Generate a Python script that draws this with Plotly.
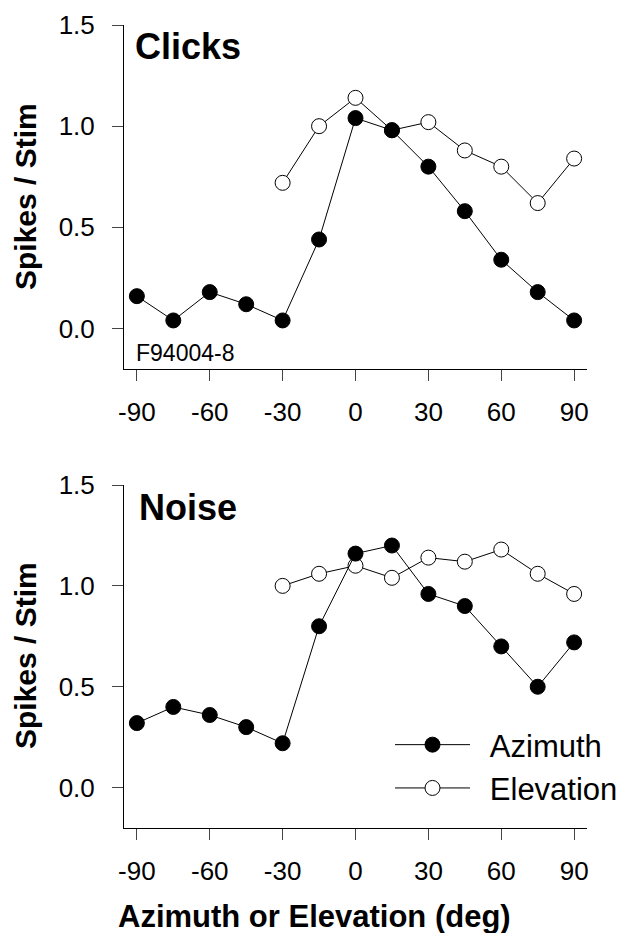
import plotly.graph_objects as go
from plotly.subplots import make_subplots

# Stimulus direction (deg), shared by azimuth and elevation sweeps
angles = [-90, -75, -60, -45, -30, -15, 0, 15, 30, 45, 60, 75, 90]
elev_angles = [-30, -15, 0, 15, 30, 45, 60, 75, 90]

# Clicks: responses (spikes per stimulus)
clicks_azimuth = [0.16, 0.04, 0.18, 0.12, 0.04, 0.44, 1.04, 0.98, 0.80, 0.58, 0.34, 0.18, 0.04]
clicks_elevation = [0.72, 1.00, 1.14, 0.98, 1.02, 0.88, 0.80, 0.62, 0.84]

# Noise: responses (spikes per stimulus)
noise_azimuth = [0.32, 0.40, 0.36, 0.30, 0.22, 0.80, 1.16, 1.20, 0.96, 0.90, 0.70, 0.50, 0.72]
noise_elevation = [1.00, 1.06, 1.10, 1.04, 1.14, 1.12, 1.18, 1.06, 0.96]

y_ticks = [0.0, 0.5, 1.0, 1.5]
y_labels = ["0.0", "0.5", "1.0", "1.5"]
x_ticks = [-90, -60, -30, 0, 30, 60, 90]
x_labels = ["-90", "-60", "-30", "0", "30", "60", "90"]

W, H = 626, 933
FONT = "Liberation Sans, Arial, sans-serif"
GAP = "\u00a0\u2009"  # small gap between legend symbol and its text

fig = make_subplots(rows=2, cols=1)

def add_panel(row, az, el, show):
    fig.add_trace(go.Scatter(
        x=elev_angles, y=el, mode="lines+markers", name=GAP + "Elevation",
        line=dict(color="black", width=1),
        marker=dict(symbol="circle", size=15, color="white",
                    line=dict(color="black", width=1)),
        showlegend=show, legendrank=2), row=row, col=1)
    fig.add_trace(go.Scatter(
        x=angles, y=az, mode="lines+markers", name=GAP + "Azimuth",
        line=dict(color="black", width=1),
        marker=dict(symbol="circle", size=15, color="black",
                    line=dict(color="black", width=1)),
        showlegend=show, legendrank=1), row=row, col=1)

add_panel(1, clicks_azimuth, clicks_elevation, False)
add_panel(2, noise_azimuth, noise_elevation, True)

x_dom = [124 / W, 587 / W]
top_dom = [1 - 369 / H, 1 - 25 / H]
bot_dom = [1 - 828 / H, 1 - 485 / H]

axis_common = dict(showline=True, linecolor="black", linewidth=1,
                   showgrid=False, zeroline=False, ticks="outside",
                   ticklen=11, tickcolor="#444", tickwidth=1,
                   automargin=False,
                   tickfont=dict(family=FONT, size=26, color="black"))

for ax in ("xaxis", "xaxis2"):
    fig.layout[ax].update(domain=x_dom, range=[-95.3, 95.3],
                          tickvals=x_ticks, ticktext=x_labels,
                          ticklabelstandoff=9, **axis_common)
fig.layout.yaxis.update(domain=top_dom, range=[-0.2, 1.5], tickvals=y_ticks,
                        ticktext=y_labels, ticklabelstandoff=12, **axis_common)
fig.layout.yaxis2.update(domain=bot_dom, range=[-0.2, 1.5], tickvals=y_ticks,
                         ticktext=y_labels, ticklabelstandoff=12, **axis_common)

def ann(text, px, py, size, bold=False, angle=0, xanchor="center"):
    fig.add_annotation(
        text=f"<b>{text}</b>" if bold else text,
        x=px / W, y=1 - py / H, xref="paper", yref="paper",
        xanchor=xanchor, yanchor="middle", showarrow=False,
        textangle=angle, font=dict(family=FONT, size=size, color="black"))

ann("Clicks", 133, 47, 36, bold=True, xanchor="left")
ann("Noise", 137, 508, 36, bold=True, xanchor="left")
ann("F94004-8", 134, 353, 23, xanchor="left")
ann("Spikes / Stim", 25, 197, 30, bold=True, angle=-90)
ann("Spikes / Stim", 25, 656, 30, bold=True, angle=-90)
ann("Azimuth or Elevation (deg)", 314, 916, 31, bold=True)

fig.update_layout(
    width=W, height=H, margin=dict(l=0, r=0, t=0, b=0),
    paper_bgcolor="white", plot_bgcolor="white",
    legend=dict(x=390 / W, y=1 - 718 / H, xanchor="left", yanchor="top",
                bgcolor="rgba(0,0,0,0)", itemwidth=75, tracegroupgap=0,
                font=dict(family=FONT, size=31, color="black")),
)

fig.write_html("out.html")
